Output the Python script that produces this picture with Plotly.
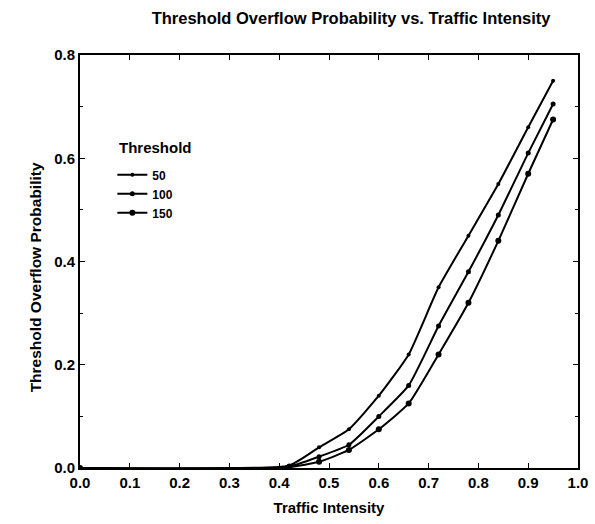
import plotly.graph_objects as go

x_vals = [0.0, 0.42, 0.48, 0.54, 0.60, 0.66, 0.72, 0.78, 0.84, 0.90, 0.95]
thr_50 = [0.0, 0.005, 0.040, 0.075, 0.140, 0.220, 0.350, 0.450, 0.550, 0.660, 0.750]
thr_100 = [0.0, 0.003, 0.022, 0.045, 0.100, 0.160, 0.275, 0.380, 0.490, 0.610, 0.705]
thr_150 = [0.0, 0.002, 0.012, 0.035, 0.075, 0.125, 0.220, 0.320, 0.440, 0.570, 0.675]
names = ["50", "100", "150"]
sizes = [4, 5, 6]

fig = go.Figure()
for name, ys, sz in zip(names, [thr_50, thr_100, thr_150], sizes):
    fig.add_trace(go.Scatter(
        x=x_vals, y=ys, name=name, mode="lines+markers",
        line=dict(color="black", width=2, shape="spline", smoothing=0.5),
        marker=dict(color="black", size=sz, symbol="circle"),
    ))

font_main = "Liberation Sans, Arial, sans-serif"
fig.update_layout(
    width=595, height=524,
    paper_bgcolor="white", plot_bgcolor="white",
    margin=dict(l=80, r=17, t=55, b=56, autoexpand=False),
    title=dict(text="Threshold Overflow Probability vs. Traffic Intensity",
               x=0.59, xanchor="center", y=0.965, yanchor="middle",
               font=dict(family=font_main, size=16.5, color="black", weight="bold")),
    font=dict(family=font_main, size=14, color="black", weight="bold"),
    showlegend=True,
    legend=dict(
        x=0.065, y=0.745, xanchor="left", yanchor="top",
        bgcolor="rgba(0,0,0,0)", font=dict(size=12, color="black", weight="bold"),
        itemwidth=30, tracegroupgap=0,
    ),
    annotations=[
        dict(text="Threshold", xref="paper", yref="paper", x=0.075, y=0.775,
             xanchor="left", yanchor="middle", showarrow=False,
             font=dict(size=15, color="black", weight="bold")),
        dict(text="Threshold Overflow Probability", xref="paper", yref="paper",
             x=-0.09, y=0.462, xanchor="center", yanchor="middle", textangle=-90,
             showarrow=False, font=dict(size=15.5, color="black", weight="bold")),
    ],
    xaxis=dict(
        range=[0, 1.0], dtick=0.1, tickformat=".1f", automargin=False,
        ticklabeloverflow="allow",
        showgrid=False, zeroline=False,
        showline=True, linecolor="black", linewidth=2, mirror="ticks",
        ticks="inside", ticklen=5, tickcolor="black",
        tickfont=dict(size=15, color="black", weight="bold"),
        title=dict(text="Traffic Intensity", font=dict(size=15, color="black", weight="bold"), standoff=12),
    ),
    yaxis=dict(
        range=[0, 0.8], dtick=0.2, tickformat=".1f", automargin=False,
        showgrid=False, zeroline=False,
        showline=True, linecolor="black", linewidth=2, mirror="ticks",
        ticks="inside", ticklen=5, tickcolor="black",
        minor=dict(dtick=0.1, ticks="inside", ticklen=3, tickcolor="black"),
        tickfont=dict(size=15, color="black", weight="bold"),
    ),
)

fig.write_html("out.html")
